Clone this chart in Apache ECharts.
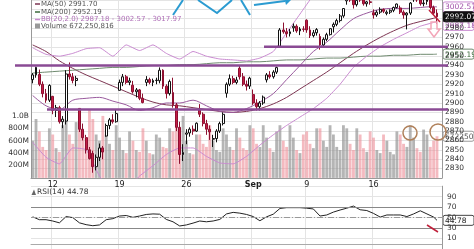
<!DOCTYPE html>
<html><head><meta charset="utf-8">
<script src="https://cdn.jsdelivr.net/npm/echarts@6/dist/echarts.min.js"></script>
<style>html,body{margin:0;padding:0;background:#fff;overflow:hidden}#c{width:474px;height:249px}</style>
</head><body><div id="c"></div><script>
// ---------- data ----------
const days = ['Aug 8','Aug 9','Aug 12','Aug 13','Aug 14','Aug 15','Aug 16','Aug 19','Aug 20','Aug 21','Aug 22','Aug 23',
  'Aug 26','Aug 27','Aug 28','Aug 29','Aug 30','Sep 3','Sep 4','Sep 5','Sep 6','Sep 9','Sep 10','Sep 11','Sep 12','Sep 13',
  'Sep 16','Sep 17','Sep 18','Sep 19','Sep 20'];
const tickLabels = {'Aug 12':'12','Aug 19':'19','Aug 26':'26','Sep 3':'Sep','Sep 9':'9','Sep 16':'16'};
// [open, high, low, close], four bars a day (first day: last two bars only)
const candles = [
 [2925,2932,2921,2930],[2930,2938.7,2927,2938.1],
 [2930.5,2935.7,2918,2920],[2920,2923,2906,2910],[2910,2915,2900.2,2903],[2903,2920,2901,2918.7],
 [2907.1,2907.6,2888,2892],[2892,2898,2885,2895],[2895,2897,2878,2880],[2880,2886,2873.1,2882.7],
 [2880.7,2935,2877,2931],[2931,2943.3,2925,2928],[2928,2932,2921,2924],[2924,2929,2918,2926.3],
 [2894.2,2894.2,2869,2872],[2872,2878,2860,2863],[2863,2866,2846,2850],[2850,2853,2839.6,2840.6],
 [2846.2,2849,2825.5,2832],[2832,2845,2828,2842],[2842,2856.7,2838,2852],[2852,2854,2840,2847.6],
 [2864.7,2878,2864,2876],[2876,2884,2872,2882],[2882,2888,2878,2880],[2880,2893.6,2879,2888.7],
 [2913.5,2925,2913.5,2922],[2922,2931,2918,2928],[2928,2930,2920,2922],[2922,2927,2919,2923.7],
 [2919,2923.6,2910,2912],[2912,2916,2906,2914],[2914,2915,2903,2905],[2905,2910,2899.6,2900.5],
 [2922,2928.7,2918,2925],[2925,2927,2920,2922],[2922,2926,2918,2924],[2924,2927,2920,2924.4],
 [2923.8,2938,2921,2935],[2935,2936,2915,2918],[2918,2920,2904.8,2910],[2910,2925,2908,2923],
 [2911.1,2927,2895,2898],[2898,2900,2870,2874],[2874,2880,2835,2845],[2845,2856,2838,2847.1],
 [2866.7,2872,2856,2868],[2868,2874,2864,2872],[2872,2876,2866,2870],[2870,2879.3,2869,2878.4],
 [2893.1,2898.8,2885,2888],[2888,2890,2875,2878],[2878,2882,2866,2872],[2872,2876,2860.6,2869.2],
 [2861.3,2866,2853,2862],[2862,2872,2858,2870],[2870,2880,2868,2878],[2878,2890,2876,2887.9],
 [2910.4,2922,2905.7,2920],[2920,2930.5,2918,2926],[2926,2929,2920,2922],[2922,2928,2920,2924.6],
 [2937.1,2940.4,2925,2928],[2928,2932,2918,2920],[2920,2924,2913.3,2918],[2918,2928,2915,2926.5],
 [2909,2914.4,2898,2900],[2900,2904,2891.9,2896],[2896,2902,2892,2900],[2900,2908,2898,2906.3],
 [2924.7,2932,2921.9,2930],[2930,2934,2926,2928],[2928,2935,2926,2933],[2933,2938.8,2931,2937.8],
 [2960.6,2980,2960.6,2978],[2978,2985.9,2974,2976],[2976,2980,2970,2974],[2974,2979,2971,2976],
 [2980.3,2985,2976,2982],[2982,2984,2975,2977],[2977,2981,2972.5,2979],[2979,2982,2976,2978.7],
 [2988.4,2989.4,2975,2978],[2978,2982,2969.4,2972],[2972,2978,2970,2975],[2975,2980,2972,2978.4],
 [2971,2974,2957,2962],[2962,2970,2960,2968],[2968,2975,2966,2973],[2973,2979.4,2972,2979.4],
 [2981.4,2986,2975.3,2984],[2984,2990,2982,2988],[2988,2995,2986,2993],[2993,3000.9,2991,3000.9],
 [3009.1,3020.7,3005,3016],[3016,3018,3008,3010],[3010,3013,3000.9,3005],[3005,3011,3003,3009.6],
 [3012.2,3017.3,3008,3010],[3010,3012,3004,3006],[3006,3009,3002.9,3008],[3008,3010,3005,3007.4],
 [2996.4,3000,2990.1,2994],[2994,2999,2992,2997],[2997,3002.2,2995,3000],[3000,3001,2996,2998],
 [2995.7,2999,2993.7,2997],[2997,3000,2995,2999],[2999,3003,2997,3002],[3002,3006.2,3001,3005.7],
 [3001.5,3004,2995,2997],[2997,2999,2990,2994],[2994,2997,2978.6,2996],[2996,3007.8,2994,3006.7],
 [3010.4,3021.2,3008,3016],[3016,3018,3008,3010],[3010,3012,3004,3006],[3006,3010,3003.2,3006.8],
 [3008.4,3016.4,3005,3010],[3010,3012,3000,3002],[3002,3004,2994,2996],[2996,3000,2984.7,2992.07]
];
// volume, millions
const volumes = [
 600,950, 750,500,450,800, 700,480,420,850, 950,700,550,900, 900,750,650,1100, 950,700,600,1000,
 700,550,450,850, 650,450,400,750, 600,450,420,800, 600,400,380,700, 650,500,480,800, 750,900,800,1000,
 600,400,380,700, 700,550,500,850, 600,450,420,800, 700,500,450,800, 650,480,450,850,
 800,550,500,850, 650,480,420,750, 850,600,500,850, 650,450,400,700,
 750,550,480,800, 800,600,500,850, 700,500,450,850, 800,550,450,800, 700,480,420,750,
 650,450,400,700, 600,420,380,750, 700,550,500,850, 650,480,420,780, 700,500,600,672.25
];
// RSI(14), every second bar, then last bar
const rsiValues = [51.5,46,46,43.5,40,52,50,40,36.5,34.5,36,46,48,53,54,50.5,53,56,57,56.5,46.5,42,34,36,39.5,
 43.5,42,43.5,46.5,57,60,58.5,56,52,44,51.5,56.5,67.5,69,69,69,68,66.5,53,55,60.5,64.5,68,72,65,63.5,58,51,55,55,55,
 52,57,63,57,51,44.78];
// overlays sampled every fourth bar, then last bar
const ma50 = [2962,2955,2945,2937,2930,2924,2918,2912,2906,2901,2898,2897,2895,2893,2891,2890,2891,2894,2899,2906,
 2915,2924,2933,2943,2953,2962,2970,2977,2983,2987,2990.5,2991.70];
const ma200 = [2932,2933,2934,2935,2936,2937,2938,2938,2939,2940,2940,2941,2941,2942,2943,2943,2944,2944,2945,2946,
 2946,2947,2948,2948,2949,2950,2950,2951,2951,2952,2952,2952.19];
const bbUpper = [2959,2952,2950,2953,2958,2959,2950,2962,2956,2962,2953,2947,2955,2950,2947,2946,2945,2948,2955,2975,
 2995,3015,3030,3040,3040,3035,3030,3025,3022,3020,3019,3017.97];
const bbMid = [2908,2897,2893,2903,2905,2906,2902,2898,2892,2895,2900,2900,2903,2897,2891,2890,2894,2901,2910,2925,
 2940,2955,2965,2978,2990,2996,3000,3001,3001,3002,3003,3002.57];
const bbLower = [2858,2842,2835,2852,2850,2822,2805,2808,2822,2833,2845,2852,2852,2843,2836,2835,2843,2855,2866,2876,
 2885,2894,2905,2920,2938,2950,2960,2968,2975,2982,2986,2987.18];

// ---------- build ----------
const cats = [];
days.forEach((d, di) => { for (let b = 1; b <= 4; b++) { if (di === 0 && b < 3) continue; cats.push(d + ' #' + b); } });
cats.push('');
const nBars = candles.length;
const lastIdx = nBars - 1;
const sampled = arr => arr.map((v, i) => [i < arr.length - 1 ? i * 4 : lastIdx, v]);
const rsiData = rsiValues.map((v, i) => [i < rsiValues.length - 1 ? i * 2 : lastIdx, v]);
const isTick = (idx, val) => { const p = String(val).split(' #'); return p[1] === '1' && tickLabels[p[0]] !== undefined; };
const up = c => c[3] >= c[0];

const FONT = 'DejaVu Sans';
const chart = echarts.init(document.getElementById('c'), null, {renderer: 'canvas'});
const gridCol = '#e4e4e4';
const bbCol = '#c98ad0';
const option = {
  animation: false,
  backgroundColor: '#fff',
  grid: [
    {left: 31, right: 32, top: -1.5, height: 179.4},
    {left: 31, right: 32, top: 186.2, height: 70.2}
  ],
  xAxis: [
    {type: 'category', gridIndex: 0, data: cats, boundaryGap: true,
     axisLine: {lineStyle: {color: '#999'}}, axisTick: {show: false},
     axisLabel: {interval: isTick, margin: 3, fontSize: 8, fontFamily: FONT, color: '#222',
       formatter: v => { const l = tickLabels[v.split(' #')[0]]; return l === 'Sep' ? '{b|Sep}' : l; },
       rich: {b: {fontWeight: 'bold', fontSize: 8, fontFamily: FONT, color: '#222'}}},
     splitLine: {show: true, interval: isTick, lineStyle: {color: gridCol, width: 1}}},
    {type: 'category', gridIndex: 1, data: cats, boundaryGap: true, position: 'top',
     axisLine: {lineStyle: {color: '#aaa'}}, axisTick: {show: false}, axisLabel: {show: false},
     splitLine: {show: true, interval: isTick, lineStyle: {color: gridCol, width: 1}}}
  ],
  yAxis: [
    {type: 'value', gridIndex: 0, position: 'right', min: 2820, max: 3010, interval: 10,
     axisLine: {show: true, lineStyle: {color: '#999'}}, axisTick: {show: false},
     axisLabel: {margin: 3, fontSize: 7.5, fontFamily: FONT, color: '#333', formatter: v => (v <= 2820 || v >= 3000) ? '' : v},
     splitLine: {lineStyle: {color: gridCol}}},
    {type: 'value', gridIndex: 0, position: 'left', min: 0, max: 2870, interval: 200,
     axisLine: {show: true, lineStyle: {color: '#999'}}, axisTick: {show: false},
     axisLabel: {margin: 2, fontSize: 7.5, fontFamily: FONT, color: '#333',
       formatter: v => v === 0 || v > 1000 ? '' : (v === 1000 ? '1.0B' : v + 'M')},
     splitLine: {show: false}},
    {type: 'value', gridIndex: 1, position: 'right', min: -10, max: 110, interval: 20,
     axisLine: {show: true, lineStyle: {color: '#999'}}, axisTick: {show: false},
     axisLabel: {margin: 5, fontSize: 7.5, fontFamily: FONT, color: '#333', formatter: v => (v < 0 || v > 100) ? '' : v},
     splitLine: {lineStyle: {color: gridCol}}}
  ],
  series: [
    {type: 'bar', name: 'Volume', xAxisIndex: 0, yAxisIndex: 1, barCategoryGap: '15%', z: 1,
     data: volumes.map((v, i) => ({value: v, itemStyle: {color: up(candles[i]) ? 'rgba(150,150,150,0.7)' : 'rgba(236,140,150,0.6)'}}))},
    {type: 'candlestick', name: 'Price', xAxisIndex: 0, yAxisIndex: 0, barWidth: 2.4, z: 5, clip: true,
     data: candles.map(c => [c[0], c[3], c[2], c[1]]),
     itemStyle: {color: '#ffffff', color0: '#c41e48', borderColor: '#111', borderColor0: '#8e1030', borderWidth: 1}},
    {type: 'line', name: 'MA50', xAxisIndex: 0, yAxisIndex: 0, data: sampled(ma50), showSymbol: false, smooth: 0.3, z: 4,
     lineStyle: {color: '#7d3552', width: 1}},
    {type: 'line', name: 'MA200', xAxisIndex: 0, yAxisIndex: 0, data: sampled(ma200), showSymbol: false, smooth: 0.3, z: 4,
     lineStyle: {color: '#6f8a6f', width: 1}},
    {type: 'line', name: 'BBU', xAxisIndex: 0, yAxisIndex: 0, data: sampled(bbUpper), showSymbol: false, smooth: 0.15, z: 4,
     lineStyle: {color: bbCol, width: 1}},
    {type: 'line', name: 'BBM', xAxisIndex: 0, yAxisIndex: 0, data: sampled(bbMid), showSymbol: false, smooth: 0.3, z: 4,
     lineStyle: {color: '#9a5a9e', width: 1}},
    {type: 'line', name: 'BBL', xAxisIndex: 0, yAxisIndex: 0, data: sampled(bbLower), showSymbol: false, smooth: 0.15, z: 4,
     lineStyle: {color: bbCol, width: 1}},
    {type: 'line', name: 'RSI', xAxisIndex: 1, yAxisIndex: 2, data: rsiData, showSymbol: false, z: 4,
     lineStyle: {color: '#222', width: 1},
     markLine: {silent: true, symbol: 'none', label: {show: false},
       data: [{yAxis: 70, lineStyle: {color: '#888', type: 'solid', width: 1}},
              {yAxis: 30, lineStyle: {color: '#888', type: 'solid', width: 1}},
              {yAxis: 50, lineStyle: {color: '#999', type: [6, 2, 1, 2], width: 1}}]}}
  ]
};
chart.setOption(option);

// ---------- annotations ----------
const py = v => chart.convertToPixel({yAxisIndex: 0}, v);
const vy = v => chart.convertToPixel({yAxisIndex: 1}, v);
const ry = v => chart.convertToPixel({yAxisIndex: 2}, v);
const purple = '#8a4a94';
const box = (text, y, bg, fg, bc) => ({type: 'group', x: 443, y: y - 5, z: 50, children: [
  {type: 'rect', shape: {x: 0, y: 0, width: 31, height: 10, r: 2}, style: {fill: bg, stroke: bc, lineWidth: 1}},
  {type: 'text', x: 2, y: 1.5, style: {text: text, fill: fg, font: '7.5px ' + FONT}}]});
const legendY = [4, 12, 19.5, 26];
const graphics = [
  {type: 'line', shape: {x1: 35, y1: legendY[0], x2: 40, y2: legendY[0]}, style: {stroke: '#7d3552', lineWidth: 1.5}},
  {type: 'text', x: 41, y: legendY[0] - 3.5, style: {text: 'MA(50) 2991.70', fill: '#555', font: '7px ' + FONT}},
  {type: 'line', shape: {x1: 35, y1: legendY[1], x2: 40, y2: legendY[1]}, style: {stroke: '#3c6b3c', lineWidth: 1.5}},
  {type: 'text', x: 41, y: legendY[1] - 3.5, style: {text: 'MA(200) 2952.19', fill: '#555', font: '7px ' + FONT}},
  {type: 'line', shape: {x1: 35, y1: legendY[2], x2: 40, y2: legendY[2]}, style: {stroke: bbCol, lineWidth: 1.5}},
  {type: 'text', x: 41, y: legendY[2] - 3.5, style: {text: 'BB(20,2.0) 2987.18 - 3002.57 - 3017.97', fill: '#b070b8', font: '7px ' + FONT}},
  {type: 'rect', shape: {x: 35, y: legendY[3] - 2.5, width: 5, height: 5}, style: {fill: '#999'}},
  {type: 'text', x: 41, y: legendY[3] - 3.5, style: {text: 'Volume 672,250,816', fill: '#555', font: '7px ' + FONT}},
  {type: 'text', x: 37, y: 188, style: {text: 'RSI(14) 44.78', fill: '#333', font: '7.5px ' + FONT}},
  {type: 'polygon', shape: {points: [[31.5, 195], [34, 189.5], [36, 195]]}, style: {fill: '#666'}},
  {type: 'line', z: 40, shape: {x1: 15, y1: py(2940), x2: 448, y2: py(2940)}, style: {stroke: purple, lineWidth: 2.5}},
  {type: 'line', z: 40, shape: {x1: 47, y1: py(2893), x2: 448, y2: py(2893)}, style: {stroke: purple, lineWidth: 2.5}},
  {type: 'line', z: 40, shape: {x1: 264, y1: py(2960), x2: 448, y2: py(2960)}, style: {stroke: purple, lineWidth: 2.5}},
  {type: 'polyline', z: 40, shape: {points: [[173, 15], [183, 0]]}, style: {stroke: '#2b9bd1', lineWidth: 2, fill: null}},
  {type: 'polyline', z: 40, shape: {points: [[198, 0], [217, 13], [232, 0]]}, style: {stroke: '#2b9bd1', lineWidth: 2, fill: null}},
  {type: 'polyline', z: 40, shape: {points: [[241, 0], [250, 15]]}, style: {stroke: '#2b9bd1', lineWidth: 2, fill: null}},
  {type: 'polyline', z: 40, shape: {points: [[254, 5], [285, 1]]}, style: {stroke: '#2b9bd1', lineWidth: 2, fill: null}},
  {type: 'polygon', z: 40, shape: {points: [[284, -3], [291, 0], [286, 5]]}, style: {fill: '#2b9bd1'}},
  {type: 'circle', z: 40, shape: {cx: 410, cy: 133, r: 7}, style: {stroke: '#b0805a', lineWidth: 1.5, fill: null}},
  {type: 'circle', z: 40, shape: {cx: 438, cy: 132, r: 8}, style: {stroke: '#b0805a', lineWidth: 1.5, fill: null}},
  {type: 'polygon', z: 40, shape: {points: [[431, 22], [437, 22], [437, 29], [440, 29], [434, 37], [428, 29], [431, 29]]},
   style: {stroke: '#f3a6b8', lineWidth: 1.5, fill: null}},
  {type: 'line', z: 40, shape: {x1: 429, y1: 10, x2: 440, y2: 22}, style: {stroke: '#c0203a', lineWidth: 1.5}},
  {type: 'line', z: 40, shape: {x1: 427, y1: 225, x2: 438, y2: 232}, style: {stroke: '#c0203a', lineWidth: 1.5}},
  box('3002.57', py(3002.57), '#fff', '#a050a8', bbCol),
  box('2987.18', py(2987.18) + 4, '#fff', '#a050a8', bbCol),
  box('2992.07', py(2992.07), '#111', '#fff', '#111'),
  box('2952.19', py(2952.19), '#fff', '#3c6b3c', '#6f8a6f'),
  box('672250816', vy(672.25), '#fff', '#555', '#999'),
  box('44.78', ry(44.78), '#fff', '#222', '#444')
];
chart.setOption({graphic: graphics});
</script></body></html>
